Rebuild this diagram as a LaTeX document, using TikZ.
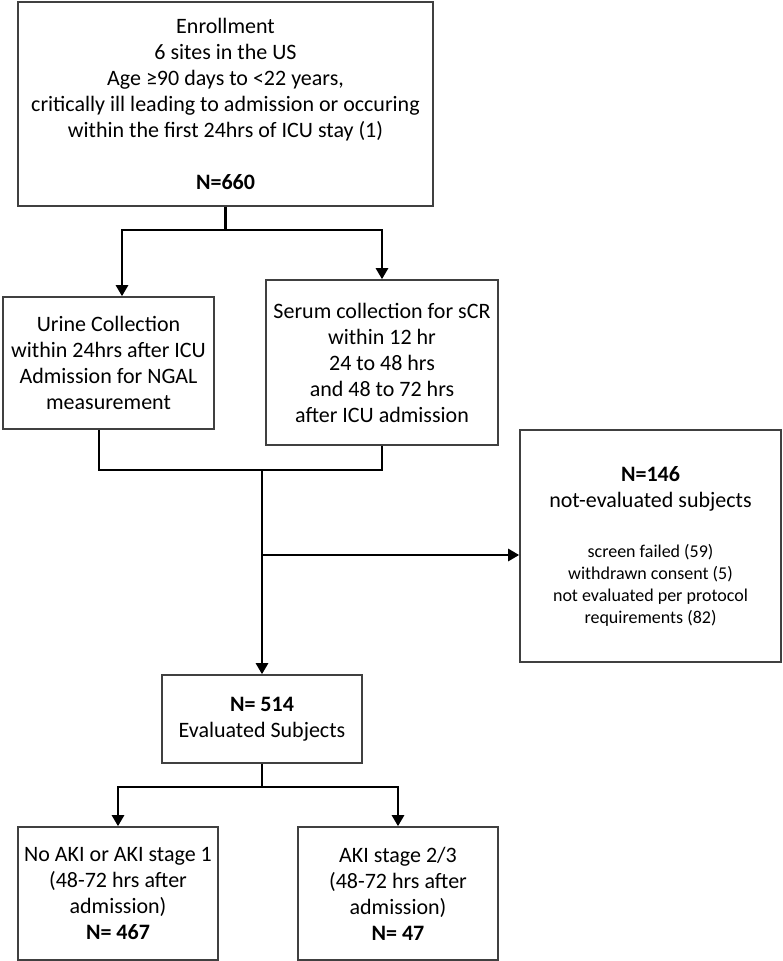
\documentclass[tikz,border=0pt]{standalone}
\usepackage{fontspec}
\setmainfont{Carlito}
\usepackage{tikz}
\usetikzlibrary{positioning,arrows.meta}

\begin{document}
\begin{tikzpicture}[x=1pt,y=-1pt,
box/.style={rectangle, draw=black!75, line width=1.6pt, align=center, inner sep=0pt, font=\fontsize{22}{26}\selectfont},
link/.style={black, line width=2.6pt},
arrow/.style={black, line width=2.6pt, -{Triangle[length=11pt,width=12pt]}},
]
\useasboundingbox (0,0) rectangle (782,961);

% boxes
\node[box, minimum width=415pt, minimum height=204pt] (enroll) at (225.5,104) {Enrollment\\6 sites in the US\\Age ≥90 days to <22 years,\\critically ill leading to admission or occuring\\within the first 24hrs of ICU stay (1)\\[26pt]\textbf{N=660}};
\node[box, minimum width=211pt, minimum height=132pt] (urine) at (108.5,363) {Urine Collection\\within 24hrs after ICU\\Admission for NGAL\\measurement};
\node[box, minimum width=232pt, minimum height=165pt] (serum) at (382,362.5) {Serum collection for sCR\\within 12 hr\\24 to 48 hrs\\and 48 to 72 hrs\\after ICU admission};
\node[box, minimum width=261pt, minimum height=232pt, font=\fontsize{18}{22}\selectfont] (excluded) at (650.5,546) {{\fontsize{22}{22}\selectfont\bfseries N=146}\\[4pt]{\fontsize{22}{22}\selectfont not-evaluated subjects}\\[28pt]screen failed (59)\\withdrawn consent (5)\\not evaluated per protocol\\requirements (82)};
\node[box, minimum width=200pt, minimum height=88pt] (evaluated) at (262,719) {\textbf{N= 514}\\Evaluated Subjects};
\node[box, minimum width=200pt, minimum height=133pt] (noaki) at (118,893.5) {No AKI or AKI stage 1\\(48-72 hrs after\\admission)\\\textbf{N= 467}};
\node[box, minimum width=200pt, minimum height=133pt] (aki) at (398,893.5) {AKI stage 2/3\\(48-72 hrs after\\admission)\\\textbf{N= 47}};

% connectors
\coordinate (split) at (225.5,230);
\draw[link] (enroll.south) -- (split);
\draw[arrow] (split) -| ([xshift=13.5pt]urine.north);
\draw[arrow] (split) -| (serum.north);

\coordinate (join) at (262,469);
\coordinate (branch) at (262,555);
\draw[link] ([xshift=-9.5pt]urine.south) -- ++(0,40) -| (serum.south);
\draw[arrow] (join) -- (evaluated.north);
\draw[arrow] (branch) -- (branch -| excluded.west);

\coordinate (split2) at (262,787);
\draw[link] (evaluated.south) -- (split2);
\draw[arrow] (split2) -| (noaki.north);
\draw[arrow] (split2) -| (aki.north);
\end{tikzpicture}
\end{document}
